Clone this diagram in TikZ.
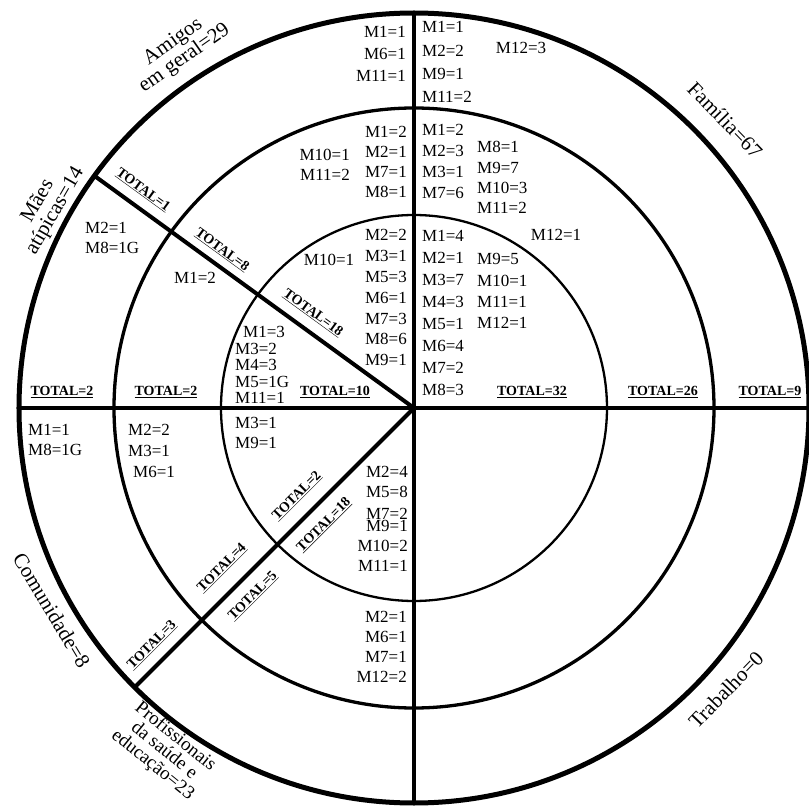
\documentclass[tikz,border=0pt]{standalone}
\usepackage{fontspec}
\setmainfont{Liberation Serif}

\begin{document}
\begin{tikzpicture}[x=1pt,y=1pt,
  ring/.style={draw=black},
  spoke/.style={draw=black,line width=4pt},
  lbl/.style={font=\fontsize{17}{21}\selectfont,inner sep=0pt},
  colr/.style={lbl,align=right,anchor=north east},
  coll/.style={lbl,align=left,anchor=north west},
  tot/.style={font=\fontsize{14}{16}\selectfont\bfseries,inner sep=0pt},
  sector/.style={font=\fontsize{21}{20}\selectfont,align=center,inner sep=0pt}]
\useasboundingbox (-414,-398) rectangle (395,408);
\coordinate (c) at (0,0);
\draw[spoke] (c) -- (144:395);
\draw[spoke] (c) -- (225:395);
\draw[spoke] (180:395) -- (0:395);
\draw[spoke,line width=3.4pt] (90:395) -- (270:395);
\draw[ring,line width=2.3pt] (c) circle (193);
\draw[ring,line width=3.3pt] (c) circle (300);
\draw[ring,line width=5pt] (c) circle (395);

\node[sector,rotate=35] (amigos) at (123.3:428) {Amigos\\em geral=29};
\node[sector,rotate=60] (maes) at (151.2:419) {Mães\\atípicas=14};
\node[sector,rotate=-46] (familia) at (42.8:424) {Família=67};
\node[sector,rotate=-59] (comunidade) at (209.2:415) {Comunidade=8};
\node[sector,rotate=-39,font=\fontsize{19}{18}\selectfont] (profissionais) at (-250,-343) {Profissionais\\da saúde e\\educação=23};
\node[sector,rotate=46] (trabalho) at (-42.1:420.5) {Trabalho=0};

\node[colr,font=\fontsize{17}{22}\selectfont] (ami3) at (-8,381.6) {M1=1\\M6=1\\M11=1};
\node[colr,font=\fontsize{17}{20}\selectfont] (ami2) at (-7,281.6) {M1=2\\M2=1\\M7=1\\M8=1};
\node[colr,font=\fontsize{17}{20}\selectfont] (ami2b) at (-64,258.6) {M10=1\\M11=2};
\node[colr,font=\fontsize{17}{20.8}\selectfont] (ami1) at (-7,178.6) {M2=2\\M3=1\\M5=3\\M6=1\\M7=3\\M8=6\\M9=1};
\node[lbl] (ami1b) at (-85,148) {M10=1};

\node[coll,font=\fontsize{17}{20}\selectfont] (mae3) at (-329,185.6) {M2=1\\M8=1G};
\node[lbl] (mae2) at (-219,130) {M1=2};
\node[coll,font=\fontsize{17}{16.5}\selectfont] (mae1) at (-179,81.6) {\hspace*{8pt}M1=3\\M3=2\\M4=3\\M5=1G\\M11=1};

\node[coll,font=\fontsize{17}{23.3}\selectfont] (fam3) at (8,386.6) {M1=1\\M2=2\\M9=1\\M11=2};
\node[lbl] (fam3b) at (107,360) {M12=3};
\node[coll,font=\fontsize{17}{21}\selectfont] (fam2) at (8,283.6) {M1=2\\M2=3\\M3=1\\M7=6};
\node[coll,font=\fontsize{17}{20.3}\selectfont] (fam2b) at (63,266.6) {M8=1\\M9=7\\M10=3\\M11=2};
\node[lbl] (fam2c) at (142,173) {M12=1};
\node[coll,font=\fontsize{17}{22}\selectfont] (fam1) at (8,177.6) {M1=4\\M2=1\\M3=7\\M4=3\\M5=1\\M6=4\\M7=2\\M8=3};
\node[coll,font=\fontsize{17}{21.3}\selectfont] (fam1b) at (63,154.6) {M9=5\\M10=1\\M11=1\\M12=1};

\node[coll,font=\fontsize{17}{20}\selectfont] (com3) at (-386,-16.4) {M1=1\\M8=1G};
\node[coll,font=\fontsize{17}{21}\selectfont] (com2) at (-286,-16.4) {M2=2\\M3=1\\\hspace*{5pt}M6=1};
\node[coll,font=\fontsize{17}{20}\selectfont] (com1) at (-179,-9.4) {M3=1\\M9=1};

\node[colr,font=\fontsize{17}{20}\selectfont] (pro1) at (-6,-58.4) {M2=4\\M5=8\\[2pt]M7=2\\[-8pt]M9=1\\M10=2\\M11=1};
\node[colr,font=\fontsize{17}{20}\selectfont] (pro2) at (-7,-203.4) {M2=1\\M6=1\\M7=1\\M12=2};

\node[tot] (tmae3) at (-352,16) {\underline{TOTAL=2}};
\node[tot] (tmae2) at (-248,16) {\underline{TOTAL=2}};
\node[tot] (tmae1) at (-79,16) {\underline{TOTAL=10}};
\node[tot] (tfam1) at (118,16) {\underline{TOTAL=32}};
\node[tot] (tfam2) at (249,16) {\underline{TOTAL=26}};
\node[tot] (tfam3) at (356,16) {\underline{TOTAL=9}};
\node[tot,rotate=-36] (tami3) at (-271,218) {\underline{TOTAL=1}};
\node[tot,rotate=-36] (tami2) at (-192,158) {\underline{TOTAL=8}};
\node[tot,rotate=-36] (tami1) at (-101,95) {\underline{TOTAL=18}};
\node[tot,rotate=45] (tcom1) at (-117,-88) {\underline{TOTAL=2}};
\node[tot,rotate=45] (tpro1) at (-90,-117) {\underline{TOTAL=18}};
\node[tot,rotate=45] (tcom2) at (-192,-160) {\underline{TOTAL=4}};
\node[tot,rotate=45] (tpro2) at (-161,-188) {\underline{TOTAL=5}};
\node[tot,rotate=45] (tcom3) at (-262,-237) {\underline{TOTAL=3}};
\end{tikzpicture}
\end{document}
